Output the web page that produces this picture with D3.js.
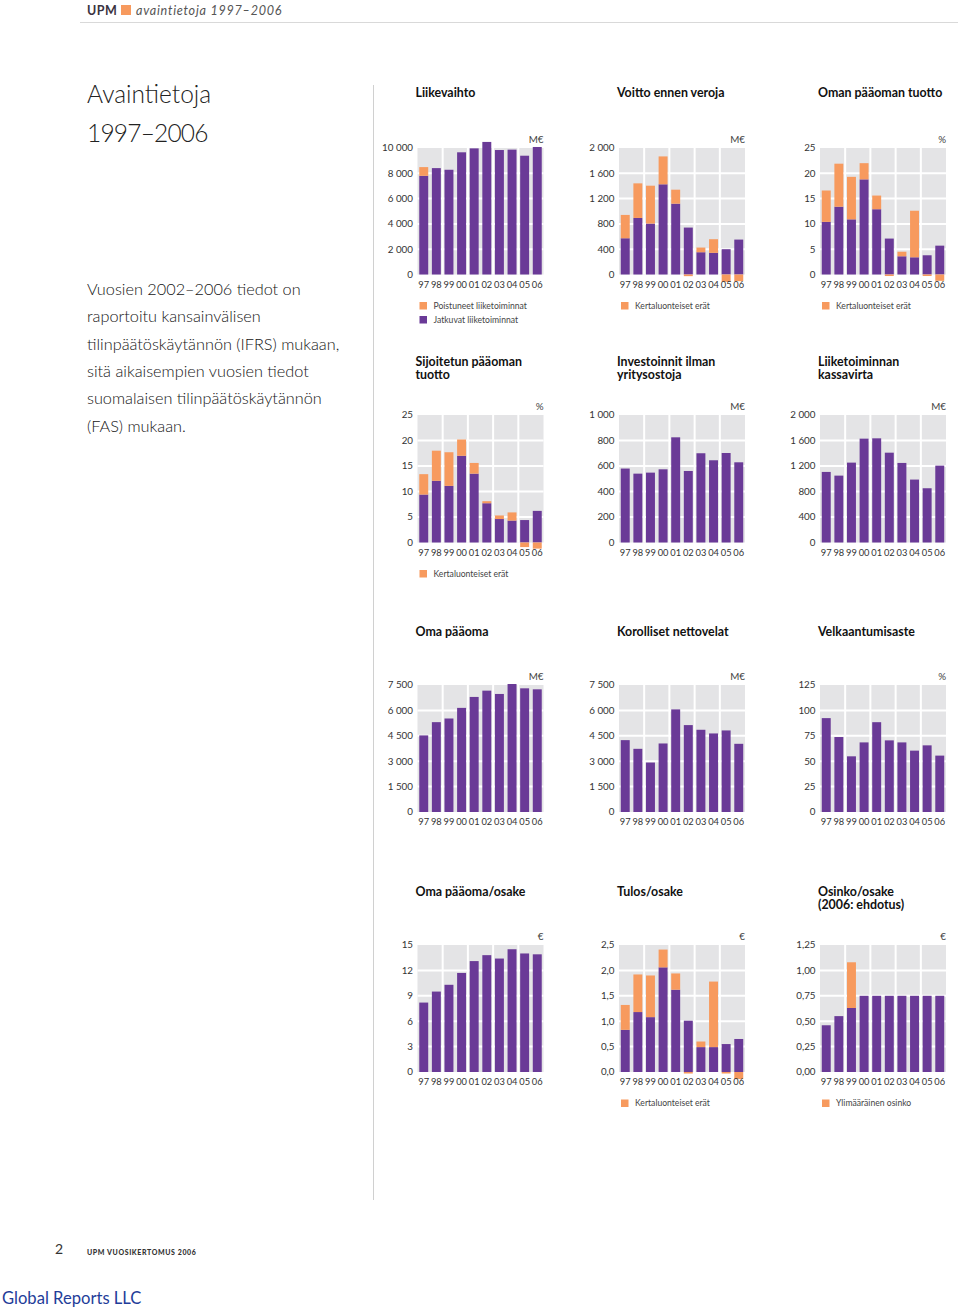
<!DOCTYPE html>
<html>
<head>
<meta charset="utf-8">
<script src="https://cdn.jsdelivr.net/npm/d3@7/dist/d3.min.js"></script>
<style>
  html, body { margin: 0; padding: 0; background: #fff; }
  svg { display: block; }
  text { font-family: Lato, "Open Sans", sans-serif; }
</style>
</head>
<body>
<svg id="c" width="960" height="1311"></svg>
<script>
// ---------- DATA ----------
const years = ["97","98","99","00","01","02","03","04","05","06"];

// Liikevaihto (M€)
const salesContinuing   = [7800, 8410, 8280, 9660, 9970, 10480, 9840, 9870, 9390, 10080];
const salesDiscontinued = [690, 0, 0, 0, 0, 0, 0, 0, 0, 0];
const salesTicks = ["0","2 000","4 000","6 000","8 000","10 000"];

// Voitto ennen veroja (M€)
const ptpBase    = [573, 894, 805, 1426, 1120, 742, 352, 342, 400, 552];
const ptpSpecial = [369, 547, 599, 441, 221, -26, 74, 216, -116, -105];
const ptpTicks = ["0","400","800","1 200","1 600","2 000"];

// Oman pääoman tuotto (%)
const roeBase    = [10.4, 13.4, 10.9, 18.8, 12.9, 7.1, 3.6, 3.4, 3.8, 5.7];
const roeSpecial = [6.2, 8.5, 8.4, 3.2, 2.7, -0.3, 0.9, 9.2, -0.3, -1.25];
const roeTicks = ["0","5","10","15","20","25"];

// Sijoitetun pääoman tuotto (%)
const roceBase    = [9.4, 12.1, 11.1, 17.0, 13.5, 7.7, 4.6, 4.3, 4.4, 6.2];
const roceSpecial = [4.0, 5.9, 6.6, 3.2, 2.1, 0.4, 0.7, 1.6, -0.9, -1.2];
const roceTicks = ["0","5","10","15","20","25"];

// Investoinnit ilman yritysostoja (M€)
const capex = [580, 540, 548, 574, 825, 561, 700, 645, 702, 629];
const capexTicks = ["0","200","400","600","800","1 000"];

// Liiketoiminnan kassavirta (M€)
const cashFlow = [1107, 1049, 1253, 1629, 1634, 1409, 1248, 987, 851, 1206];
const cashFlowTicks = ["0","400","800","1 200","1 600","2 000"];

// Oma pääoma (M€)
const equity = [4523, 5306, 5522, 6149, 6795, 7167, 6971, 7559, 7304, 7245];
const equityTicks = ["0","1 500","3 000","4 500","6 000","7 500"];

// Korolliset nettovelat (M€)
const netDebt = [4244, 3731, 2922, 4047, 6060, 5132, 4856, 4639, 4817, 4027];
const netDebtTicks = ["0","1 500","3 000","4 500","6 000","7 500"];

// Velkaantumisaste (%)
const gearing = [92.4, 73.8, 54.8, 68.5, 88.4, 70.5, 68.5, 60.4, 65.6, 55.5];
const gearingTicks = ["0","25","50","75","100","125"];

// Oma pääoma/osake (€)
const equityPerShare = [8.2, 9.5, 10.3, 11.7, 13.1, 13.8, 13.4, 14.5, 14.0, 13.9];
const equityPerShareTicks = ["0","3","6","9","12","15"];

// Tulos/osake (€)
const epsBase    = [0.83, 1.18, 1.08, 2.06, 1.62, 1.01, 0.49, 0.49, 0.55, 0.65];
const epsSpecial = [0.49, 0.74, 0.82, 0.35, 0.32, -0.03, 0.11, 1.29, -0.03, -0.14];
const epsTicks = ["0,0","0,5","1,0","1,5","2,0","2,5"];

// Osinko/osake (€)
const dividend      = [0.46, 0.55, 0.63, 0.75, 0.75, 0.75, 0.75, 0.75, 0.75, 0.75];
const dividendExtra = [0, 0, 0.45, 0, 0, 0, 0, 0, 0, 0];
const dividendTicks = ["0,00","0,25","0,50","0,75","1,00","1,25"];

const paragraph = [
  "Vuosien 2002–2006 tiedot on",
  "raportoitu kansainvälisen",
  "tilinpäätöskäytännön (IFRS) mukaan,",
  "sitä aikaisempien vuosien tiedot",
  "suomalaisen tilinpäätöskäytännön",
  "(FAS) mukaan."
];

// ---------- STYLE / LAYOUT ----------
const PURPLE = "#6a3a97", ORANGE = "#f79a5e", GREY = "#e4e4e6";
const colX = [417.5, 619, 820];
const plotW = 126;
const rowTop = [148, 415, 685, 945];
const rowZero = [274.5, 542.5, 812, 1072];
const titleBase = [97, 365.5, 635.5, 895.5];

const parseTick = s => +s.replace(/\s/g, "").replace(",", ".");

const charts = [
  {r:0,c:0,title:["Liikevaihto"],unit:"M€",base:salesContinuing,extra:salesDiscontinued,ticks:salesTicks,
   legend:[[ORANGE,"Poistuneet liiketoiminnat"],[PURPLE,"Jatkuvat liiketoiminnat"]]},
  {r:0,c:1,title:["Voitto ennen veroja"],unit:"M€",base:ptpBase,extra:ptpSpecial,ticks:ptpTicks,
   legend:[[ORANGE,"Kertaluonteiset erät"]]},
  {r:0,c:2,title:["Oman pääoman tuotto"],unit:"%",base:roeBase,extra:roeSpecial,ticks:roeTicks,
   legend:[[ORANGE,"Kertaluonteiset erät"]]},
  {r:1,c:0,title:["Sijoitetun pääoman","tuotto"],unit:"%",base:roceBase,extra:roceSpecial,ticks:roceTicks,
   legend:[[ORANGE,"Kertaluonteiset erät"]]},
  {r:1,c:1,title:["Investoinnit ilman","yritysostoja"],unit:"M€",base:capex,ticks:capexTicks},
  {r:1,c:2,title:["Liiketoiminnan","kassavirta"],unit:"M€",base:cashFlow,ticks:cashFlowTicks},
  {r:2,c:0,title:["Oma pääoma"],unit:"M€",base:equity,ticks:equityTicks},
  {r:2,c:1,title:["Korolliset nettovelat"],unit:"M€",base:netDebt,ticks:netDebtTicks},
  {r:2,c:2,title:["Velkaantumisaste"],unit:"%",base:gearing,ticks:gearingTicks},
  {r:3,c:0,title:["Oma pääoma/osake"],unit:"€",base:equityPerShare,ticks:equityPerShareTicks},
  {r:3,c:1,title:["Tulos/osake"],unit:"€",base:epsBase,extra:epsSpecial,ticks:epsTicks,
   legend:[[ORANGE,"Kertaluonteiset erät"]]},
  {r:3,c:2,title:["Osinko/osake","(2006: ehdotus)"],unit:"€",base:dividend,extra:dividendExtra,ticks:dividendTicks,
   legend:[[ORANGE,"Ylimääräinen osinko"]]}
];

const svg = d3.select("#c");

// ---------- PAGE FURNITURE ----------
svg.append("text").attr("x",87).attr("y",14.5).attr("font-size",12.5).attr("font-weight",700)
  .attr("fill","#3a3340").attr("letter-spacing",0.5).text("UPM");
svg.append("rect").attr("x",121).attr("y",5).attr("width",10).attr("height",10).attr("fill",ORANGE);
svg.append("text").attr("x",136).attr("y",14.5).attr("font-size",12.6).attr("font-style","italic")
  .attr("fill","#555").attr("letter-spacing",0.75).text("avaintietoja 1997–2006");
svg.append("line").attr("x1",80).attr("x2",958).attr("y1",22.5).attr("y2",22.5)
  .attr("stroke","#cfcfcf").attr("stroke-width",0.8);

svg.append("text").attr("x",87).attr("y",103).attr("font-size",24.5).attr("font-weight",300)
  .attr("fill","#222").text("Avaintietoja");
svg.append("text").attr("x",87).attr("y",142).attr("font-size",24.5).attr("font-weight",300)
  .attr("fill","#222").attr("letter-spacing",-0.8).text("1997–2006");

svg.append("g").selectAll("text").data(paragraph).join("text")
  .attr("x",87).attr("y",(d,i)=>295 + i*27.3).attr("font-size",16.3).attr("font-weight",300)
  .attr("fill","#151515").text(d=>d);

svg.append("line").attr("x1",373.5).attr("x2",373.5).attr("y1",85).attr("y2",1200)
  .attr("stroke","#d0d0d0").attr("stroke-width",1);

svg.append("text").attr("x",55).attr("y",1254).attr("font-size",14).attr("fill","#333").text("2");
svg.append("text").attr("x",87).attr("y",1255).attr("font-size",7).attr("font-weight",900)
  .attr("fill","#333").attr("letter-spacing",0.6).text("UPM VUOSIKERTOMUS 2006");

svg.append("text").attr("x",2).attr("y",1304).attr("font-family","'Liberation Serif', 'DejaVu Serif', serif")
  .attr("font-size",16.6).attr("fill","#1f3d99").text("Global Reports LLC");

// ---------- CHARTS ----------
charts.forEach(ch => {
  const x0 = colX[ch.c], top = rowTop[ch.r], zero = rowZero[ch.r];
  const tickVals = ch.ticks.map(parseTick);
  const maxV = tickVals[tickVals.length-1];
  const x = d3.scaleBand().domain(years).range([x0, x0+plotW]).paddingInner(0.29).paddingOuter(0.14);
  const y = d3.scaleLinear().domain([0, maxV]).range([zero, top]);
  const g = svg.append("g");

  // background grey panel
  g.append("rect").attr("x",x0).attr("y",top).attr("width",plotW).attr("height",zero-top).attr("fill",GREY);
  // white horizontal grid lines
  g.selectAll("line.h").data(tickVals.slice(1, -1)).join("line")
    .attr("x1",x0).attr("x2",x0+plotW).attr("y1",d=>y(d)).attr("y2",d=>y(d))
    .attr("stroke","#fff").attr("stroke-width",2);
  // white vertical separators between pairs of years
  const seps = [1,3,5,7].map(i => x(years[i]) + x.bandwidth() + x.step()*x.paddingInner()/2);
  g.selectAll("line.v").data(seps).join("line")
    .attr("x1",d=>d).attr("x2",d=>d).attr("y1",top).attr("y2",zero)
    .attr("stroke","#fff").attr("stroke-width",2);

  // purple bars
  g.selectAll("rect.b").data(ch.base).join("rect")
    .attr("x",(d,i)=>x(years[i])).attr("width",x.bandwidth())
    .attr("y",d=>y(d)).attr("height",d=>y(0)-y(d)).attr("fill",PURPLE);
  // orange segments
  if (ch.extra) {
    g.selectAll("rect.e").data(ch.extra).join("rect")
      .attr("x",(d,i)=>x(years[i])).attr("width",x.bandwidth())
      .attr("y",(d,i)=> d >= 0 ? y(ch.base[i]+d) : y(0))
      .attr("height",(d,i)=> d >= 0 ? y(ch.base[i]) - y(ch.base[i]+d) : y(d) - y(0))
      .attr("fill",ORANGE);
  }

  // y tick labels
  g.selectAll("text.t").data(ch.ticks).join("text")
    .attr("x",x0-4.5).attr("y",(d,i)=>y(tickVals[i])).attr("dy","0.35em")
    .attr("text-anchor","end").attr("font-size",9.8).attr("fill","#333").text(d=>d);
  // x labels via axis
  const ax = d3.axisBottom(x).tickSize(0).tickPadding(0);
  const axg = g.append("g").attr("transform",`translate(0,${zero+6.5})`).call(ax);
  axg.select(".domain").remove();
  axg.selectAll("text").attr("font-size",9.3).attr("fill","#333")
    .attr("font-family","Lato, 'Open Sans', sans-serif").attr("dy","0.71em");

  // unit
  g.append("text").attr("x",x0+plotW).attr("y",top-5).attr("text-anchor","end")
    .attr("font-size",9.8).attr("fill","#444").text(ch.unit);

  // title
  ch.title.forEach((t,i) => {
    g.append("text").attr("x",x0-2).attr("y",titleBase[ch.r] + i*13.8)
      .attr("font-size",12.4).attr("font-weight",700).attr("fill","#111").text(t);
  });

  // legend
  if (ch.legend) {
    ch.legend.forEach((l,i) => {
      const ly = zero + 27.5 + i*14;
      g.append("rect").attr("x",x0+2).attr("y",ly).attr("width",7.5).attr("height",7.5).attr("fill",l[0]);
      g.append("text").attr("x",x0+16).attr("y",ly+3.75).attr("dy","0.35em")
        .attr("font-size",8.6).attr("fill","#444").text(l[1]);
    });
  }
});
</script>
</body>
</html>
